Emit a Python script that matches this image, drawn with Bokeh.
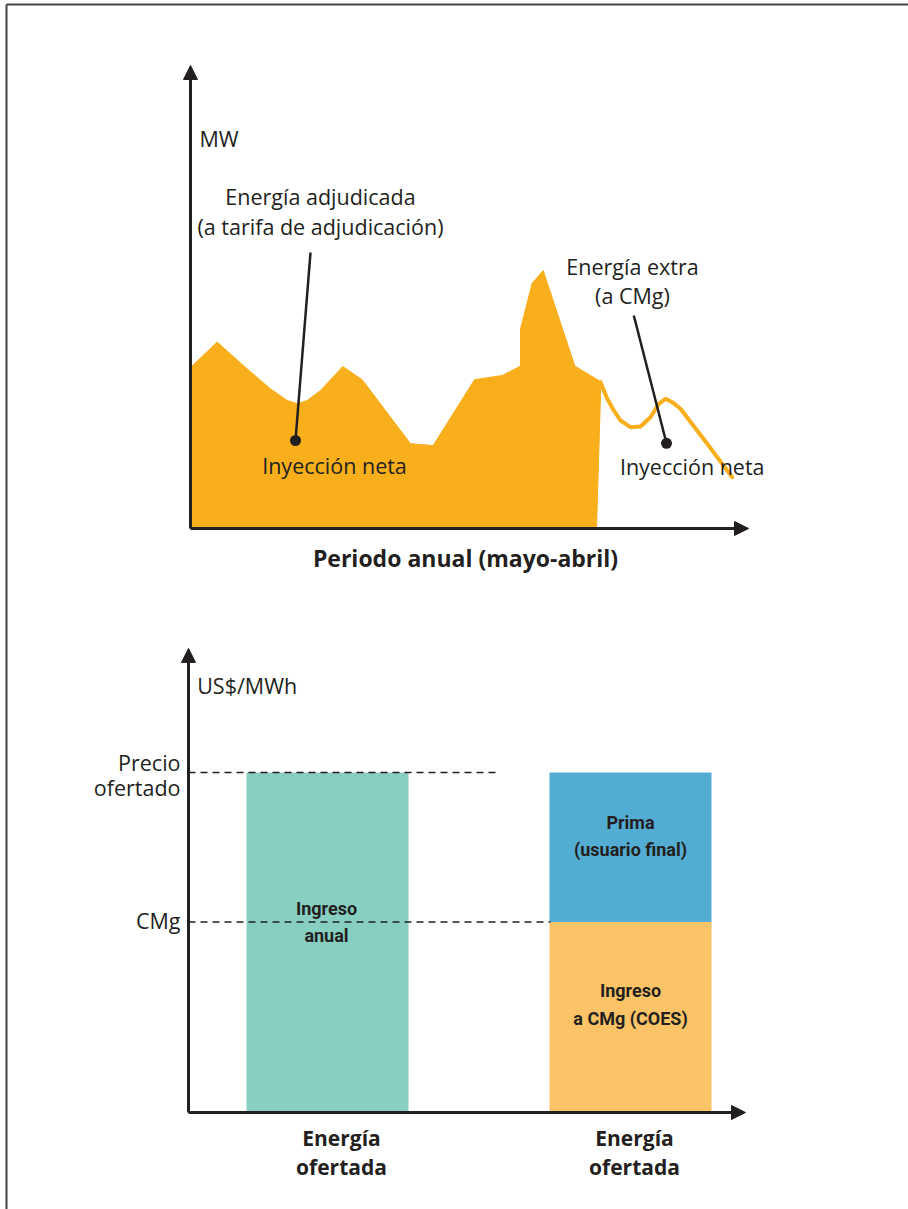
from bokeh.plotting import figure
from bokeh.models import Range1d, Arrow, NormalHead
from bokeh.core.properties import value
from bokeh.embed import file_html
from bokeh.resources import INLINE

# ---------------- data: top chart (MW over the annual period) ----------------
area_x = [0, 2.67, 5.67, 8.0, 9.67, 10.67, 11.67, 13.0, 15.23, 17.17, 22.0, 24.27,
          28.4, 31.17, 33.0, 33.0, 34.17, 35.27, 38.43, 41.0, 41.0, 40.6, 0]
area_y = [40.25, 46.6, 39.9, 34.9, 32.0, 31.2, 32.0, 34.5, 40.5, 37.2, 21.2, 20.75,
          37.2, 38.25, 40.6, 49.9, 61.3, 64.5, 40.6, 36.75, 33.25, 0, 0]
extra_x = [41.0, 41.67, 42.33, 43.0, 44.0, 45.0, 46.0, 46.83, 47.5, 48.17, 49.0, 51.67, 54.17]
extra_y = [36.58, 32.43, 29.5, 27.0, 25.33, 25.5, 27.83, 31.18, 32.43, 31.58, 29.93, 21.18, 12.83]

# ---------------- data: bottom chart (US$/MWh) ----------------
bar_labels = ["Energía\nofertada", "Energía\nofertada"]
bar_left = [5.8, 36.1]
bar_right = [22.0, 52.3]
precio_ofertado = 100
cmg = 56

DARK = "#231F20"
BORDER = "#444444"
ORANGE = "#F9AE1B"
GREEN = "#87CFC1"
BLUE = "#53ACD1"
YELLOW = "#FCC466"
FONT = "Open Sans"
COND = "Roboto"
FS = 21.5

# one page-sized figure; the top chart uses the default ranges,
# the bottom chart uses its own extra ranges ("bx", "by")
p = figure(width=908, height=1209,
           x_range=Range1d(-19.0, 71.8), y_range=Range1d(-170.25, 132.0),
           x_axis_type=None, y_axis_type=None, toolbar_location=None,
           output_backend="svg", min_border=0)
p.extra_x_ranges = {"bx": Range1d(-18.8, 72.0)}
p.extra_y_ranges = {"by": Range1d(-28.53, 327.06)}
p.outline_line_color = None
p.background_fill_color = "white"
p.border_fill_color = "white"

B = dict(x_range_name="bx", y_range_name="by")


def txt(x, y, s, size, align="center", bold=False, font=FONT, bottom=False):
    kw = B if bottom else {}
    p.text(x=[x], y=[y], text=[s], text_align=align, text_baseline="middle",
           text_font=value(font), text_font_size=f"{size}px",
           text_font_style="bold" if bold else "normal", text_color=DARK, **kw)


def arrow(x1, y1, bottom=False):
    kw = B if bottom else {}
    p.add_layout(Arrow(end=NormalHead(size=14, fill_color=DARK, line_color=DARK, line_width=1),
                       x_start=0, y_start=0, x_end=x1, y_end=y1,
                       line_width=3, line_color=DARK, **kw))


# page border (left and top)
p.segment(x0=[-18.4, -18.4], y0=[131.0, 131.0], x1=[-18.4, 75.0], y1=[-180.0, 131.0],
          line_color=BORDER, line_width=2)

# ================= top chart =================
p.patch(area_x, area_y, fill_color=ORANGE, line_color=ORANGE, line_width=1)
p.line(extra_x, extra_y, line_color=ORANGE, line_width=4, line_cap="round", line_join="round")

arrow(0, 115.75)
arrow(55.8, 0)

p.segment(x0=[12.0, 44.33], y0=[69.0, 53.25], x1=[10.5, 47.6], y1=[22.0, 21.3],
          line_color=DARK, line_width=2.5)
p.scatter(x=[10.5, 47.6], y=[22.0, 21.3], size=11, fill_color=DARK, line_color=None)

txt(0.9, 97.5, "MW", FS, align="left")
txt(13.0, 83.0, "Energía adjudicada", FS)
txt(13.0, 75.5, "(a tarifa de adjudicación)", FS)
txt(14.4, 15.75, "Inyección neta", FS)
txt(44.2, 65.5, "Energía extra", FS)
txt(44.2, 58.25, "(a CMg)", FS)
txt(50.17, 15.5, "Inyección neta", FS)
txt(27.5, -7.25, "Periodo anual (mayo-abril)", 23, bold=True)

# ================= bottom chart =================
p.quad(left=[bar_left[0]], right=[bar_right[0]], bottom=[0], top=[precio_ofertado],
       fill_color=GREEN, line_color=None, **B)
p.quad(left=[bar_left[1]], right=[bar_right[1]], bottom=[cmg], top=[precio_ofertado],
       fill_color=BLUE, line_color=None, **B)
p.quad(left=[bar_left[1]], right=[bar_right[1]], bottom=[0], top=[cmg],
       fill_color=YELLOW, line_color=None, **B)

p.segment(x0=[0, 0], y0=[precio_ofertado, cmg], x1=[30.7, 36.2], y1=[precio_ofertado, cmg],
          line_color=DARK, line_width=1.5, line_dash="7 5", **B)

arrow(0, 136.5, bottom=True)
arrow(55.7, 0, bottom=True)

txt(0.87, 125.6, "US$/MWh", FS, align="left", bottom=True)
txt(-0.8, 103.0, "Precio", FS, align="right", bottom=True)
txt(-0.8, 95.5, "ofertado", FS, align="right", bottom=True)
txt(-0.8, 56.5, "CMg", FS, align="right", bottom=True)

CS = 18
txt(13.8, 59.9, "Ingreso", CS, bold=True, font=COND, bottom=True)
txt(13.8, 52.1, "anual", CS, bold=True, font=COND, bottom=True)
txt(44.2, 85.4, "Prima", CS, bold=True, font=COND, bottom=True)
txt(44.2, 77.3, "(usuario final)", CS, bold=True, font=COND, bottom=True)
txt(44.2, 35.9, "Ingreso", CS, bold=True, font=COND, bottom=True)
txt(44.2, 27.6, "a CMg (COES)", CS, bold=True, font=COND, bottom=True)

for cx, lab in zip([15.3, 44.6], bar_labels):
    l1, l2 = lab.split("\n")
    txt(cx, -7.6, l1, 21, bold=True, bottom=True)
    txt(cx, -15.9, l2, 21, bold=True, bottom=True)

open("out.html", "w").write(file_html(p, INLINE))
